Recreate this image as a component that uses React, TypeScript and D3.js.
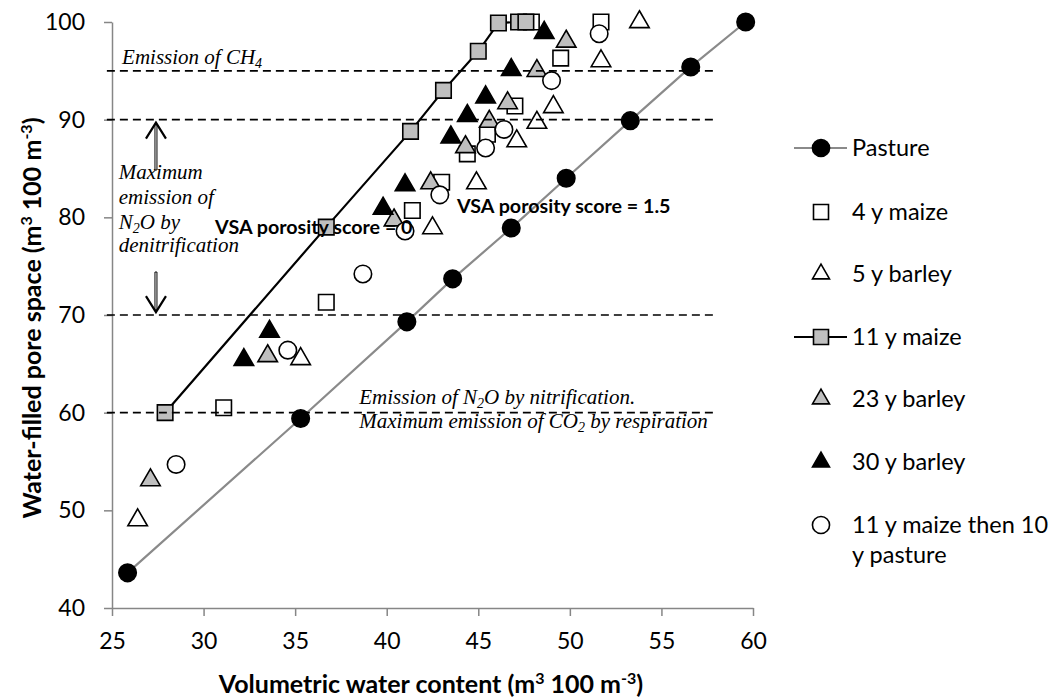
import React, { useEffect, useRef } from 'react';
import * as d3 from 'd3';

// axis ticks
const xTicks = [25, 30, 35, 40, 45, 50, 55, 60];
const yTicks = [40, 50, 60, 70, 80, 90, 100];

// series values [volumetric water content, water-filled pore space]
const pasture = [[25.85, 43.6], [35.3, 59.4], [41.1, 69.3], [43.6, 73.7], [46.8, 78.9], [49.8, 84.0], [53.3, 89.9], [56.6, 95.4], [59.6, 100]];
const maize4 = [[31.1, 60.5], [36.7, 71.3], [41.4, 80.7], [43.0, 83.6], [44.4, 86.5], [45.5, 88.5], [47.0, 91.4], [49.5, 96.3], [51.7, 100], [47.9, 100]];
const barley5 = [[26.4, 49.0], [35.3, 65.5], [42.5, 78.9], [44.9, 83.5], [47.1, 87.8], [48.2, 89.7], [49.1, 91.3], [51.7, 96.0], [53.8, 100]];
const maize11 = [[27.9, 60.0], [36.7, 79.0], [41.3, 88.8], [43.1, 93.0], [45.0, 97.0], [46.1, 99.9], [47.2, 100], [47.6, 100]];
const barley23 = [[27.1, 53.1], [33.5, 65.8], [40.4, 79.7], [42.4, 83.5], [44.3, 87.2], [45.6, 89.8], [46.6, 91.7], [48.2, 95.0], [49.8, 98.0]];
const barley30 = [[32.2, 65.4], [33.6, 68.3], [39.8, 80.9], [41.0, 83.3], [43.5, 88.2], [44.4, 90.4], [45.4, 92.3], [46.8, 95.1], [48.6, 98.9]];
const maizeThenPasture = [[28.5, 54.7], [34.6, 66.4], [38.7, 74.2], [41.0, 78.6], [42.9, 82.3], [45.4, 87.1], [46.4, 89.0], [49.0, 94.0], [51.6, 98.8]];

// threshold lines (WFPS) and their x extent
const thresholds = [95, 90, 70, 60];
const thresholdExtent = [24.72, 57.85];

const series = [
  { name: ['Pasture'], data: pasture, shape: 'circle', fill: '#000', line: '#8a8a8a' },
  { name: ['4 y maize'], data: maize4, shape: 'square', fill: '#fff', line: null },
  { name: ['5 y barley'], data: barley5, shape: 'triangle', fill: '#fff', line: null },
  { name: ['11 y maize'], data: maize11, shape: 'square', fill: '#bfbfbf', line: '#000' },
  { name: ['23 y barley'], data: barley23, shape: 'triangle', fill: '#bfbfbf', line: null },
  { name: ['30 y barley'], data: barley30, shape: 'triangle', fill: '#000', line: null },
  { name: ['11 y maize then 10', 'y pasture'], data: maizeThenPasture, shape: 'circle', fill: '#fff', line: null },
];

const sans = 'Lato, "Open Sans", sans-serif';
const serif = '"Liberation Serif", "DejaVu Serif", serif';

const App = () => {
  const svgRef = useRef(null);

  useEffect(() => {
    const width = 1061;
    const height = 699;
    const svg = d3.select(svgRef.current)
      .attr('width', width)
      .attr('height', height);
    svg.selectAll('*').remove();

    const x = d3.scaleLinear().domain([25, 60]).range([112, 753]);
    const y = d3.scaleLinear().domain([40, 100]).range([608, 22]);

    const symbolFor = (shape, big) => {
      if (shape === 'circle') return d3.symbol(d3.symbolCircle, big ? 240 : 230)();
      if (shape === 'square') return d3.symbol(d3.symbolSquare, big ? 240 : 225)();
      return d3.symbol(d3.symbolTriangle, big ? 165 : 125)();
    };

    // axes
    const axisColor = '#868686';
    svg.append('g')
      .attr('transform', `translate(0,${y(40)})`)
      .call(d3.axisBottom(x).tickValues(xTicks).tickSize(8).tickPadding(17).tickSizeOuter(0))
      .call(g => g.selectAll('line,path').attr('stroke', axisColor).attr('stroke-width', 1.5))
      .call(g => g.selectAll('text').attr('fill', '#000').style('font-family', sans).style('font-size', '23px'));

    svg.append('g')
      .attr('transform', `translate(${x(25)},0)`)
      .call(d3.axisLeft(y).tickValues(yTicks).tickSize(8).tickPadding(19).tickSizeOuter(0))
      .call(g => g.selectAll('line,path').attr('stroke', axisColor).attr('stroke-width', 1.5))
      .call(g => g.selectAll('text').attr('fill', '#000').style('font-family', sans).style('font-size', '23px'));

    // axis titles
    const xTitle = svg.append('text')
      .attr('x', 431)
      .attr('y', 693)
      .attr('text-anchor', 'middle')
      .style('font-family', sans).style('font-size', '25px').style('font-weight', 'bold');
    xTitle.append('tspan').text('Volumetric water content (m');
    xTitle.append('tspan').attr('dy', -9).style('font-size', '16px').text('3');
    xTitle.append('tspan').attr('dy', 9).text(' 100 m');
    xTitle.append('tspan').attr('dy', -9).style('font-size', '16px').text('-3');
    xTitle.append('tspan').attr('dy', 9).text(')');

    const yTitle = svg.append('text')
      .attr('transform', `translate(41,${(y(40) + y(100)) / 2 + 3}) rotate(-90)`)
      .attr('text-anchor', 'middle')
      .style('font-family', sans).style('font-size', '25px').style('font-weight', 'bold');
    yTitle.append('tspan').text('Water-filled pore space (m');
    yTitle.append('tspan').attr('dy', -9).style('font-size', '16px').text('3');
    yTitle.append('tspan').attr('dy', 9).text(' 100 m');
    yTitle.append('tspan').attr('dy', -9).style('font-size', '16px').text('-3');
    yTitle.append('tspan').attr('dy', 9).text(')');

    // series lines
    const line = d3.line().x(d => x(d[0])).y(d => y(d[1]));
    series.filter(s => s.line).forEach(s => {
      svg.append('path')
        .datum(s.data)
        .attr('fill', 'none')
        .attr('stroke', s.line)
        .attr('stroke-width', 2.2)
        .attr('d', line);
    });

    // markers
    series.forEach(s => {
      svg.append('g').selectAll('path')
        .data(s.data)
        .join('path')
        .attr('transform', d => `translate(${x(d[0])},${y(d[1])})`)
        .attr('d', symbolFor(s.shape, true))
        .attr('fill', s.fill)
        .attr('stroke', '#000')
        .attr('stroke-width', 1.6);
    });

    // threshold lines
    svg.append('g').selectAll('line')
      .data(thresholds)
      .join('line')
      .attr('x1', x(thresholdExtent[0]))
      .attr('x2', x(thresholdExtent[1]))
      .attr('y1', d => y(d))
      .attr('y2', d => y(d))
      .attr('stroke', '#000')
      .attr('stroke-width', 1.6)
      .attr('stroke-dasharray', '8,5');

    // italic notes
    const note = (px, py) => svg.append('text')
      .attr('x', x(px)).attr('y', y(py))
      .style('font-family', serif).style('font-style', 'italic').style('font-size', '21px');
    const sub = (t, s) => {
      t.append('tspan').attr('dy', 4).style('font-size', '14px').text(s);
      return t.append('tspan').attr('dy', -4);
    };

    const ch4 = note(25.55, 95.7);
    ch4.append('tspan').text('Emission of CH');
    sub(ch4, '4');

    const denitLines = ['Maximum', 'emission of', null, 'denitrification'];
    const denitY = [83.93, 81.4, 78.85, 76.4];
    denitLines.forEach((l, i) => {
      const t = note(25.37, denitY[i]);
      if (l) t.text(l);
      else {
        t.append('tspan').text('N');
        sub(t, '2').text('O by');
      }
    });

    const nit = note(38.5, 60.89);
    nit.append('tspan').text('Emission of N');
    sub(nit, '2').text('O by nitrification.');
    const resp = note(38.5, 58.4);
    resp.append('tspan').text('Maximum emission of CO');
    sub(resp, '2').text(' by respiration');

    // arrows (thin shaft with open head)
    const arrows = [{ x: 27.4, from: 84.85, to: 89.7 }, { x: 27.4, from: 74.4, to: 70.3 }];
    arrows.forEach(a => {
      const ax = x(a.x);
      const y0 = y(a.from);
      const y1 = y(a.to);
      const dir = y1 < y0 ? 1 : -1;
      const shaft = d3.path();
      shaft.moveTo(ax - 1, y0);
      shaft.lineTo(ax - 1, y1 + dir * 2);
      shaft.lineTo(ax + 1, y1 + dir * 2);
      shaft.lineTo(ax + 1, y0);
      shaft.closePath();
      svg.append('path').attr('d', shaft.toString())
        .attr('fill', '#fff').attr('stroke', '#000').attr('stroke-width', 1);
      const head = d3.path();
      head.moveTo(ax - 10, y1 + dir * 16);
      head.lineTo(ax, y1);
      head.lineTo(ax + 10, y1 + dir * 16);
      svg.append('path').attr('d', head.toString())
        .attr('fill', 'none').attr('stroke', '#000').attr('stroke-width', 2.2);
    });

    // VSA labels
    const vsa = [{ t: 'VSA porosity score = 0', px: 30.63, py: 78.3 }, { t: 'VSA porosity score = 1.5', px: 43.84, py: 80.44 }];
    vsa.forEach(v => {
      svg.append('text')
        .attr('x', x(v.px)).attr('y', y(v.py))
        .style('font-family', sans).style('font-size', '19.7px').style('font-weight', 'bold')
        .text(v.t);
    });

    // legend
    const legendY = [148, 212, 274, 337, 399, 462, 525];
    const legend = svg.append('g');
    series.forEach((s, i) => {
      const g = legend.append('g').attr('transform', `translate(821,${legendY[i]})`);
      if (s.line) {
        g.append('line').attr('x1', -27).attr('x2', 26)
          .attr('stroke', s.line).attr('stroke-width', 2.2);
      }
      g.append('path')
        .attr('d', symbolFor(s.shape, false))
        .attr('fill', s.fill)
        .attr('stroke', '#000')
        .attr('stroke-width', 1.6);
      s.name.forEach((n, j) => {
        g.append('text')
          .attr('x', 31)
          .attr('y', j * 30)
          .attr('dy', '0.35em')
          .style('font-family', sans).style('font-size', '23.5px')
          .text(n);
      });
    });
  }, []);

  return (
    <div style={{ position: 'absolute', left: 0, top: 0, background: '#fff' }}>
      <svg ref={svgRef}></svg>
    </div>
  );
};

export default App;
